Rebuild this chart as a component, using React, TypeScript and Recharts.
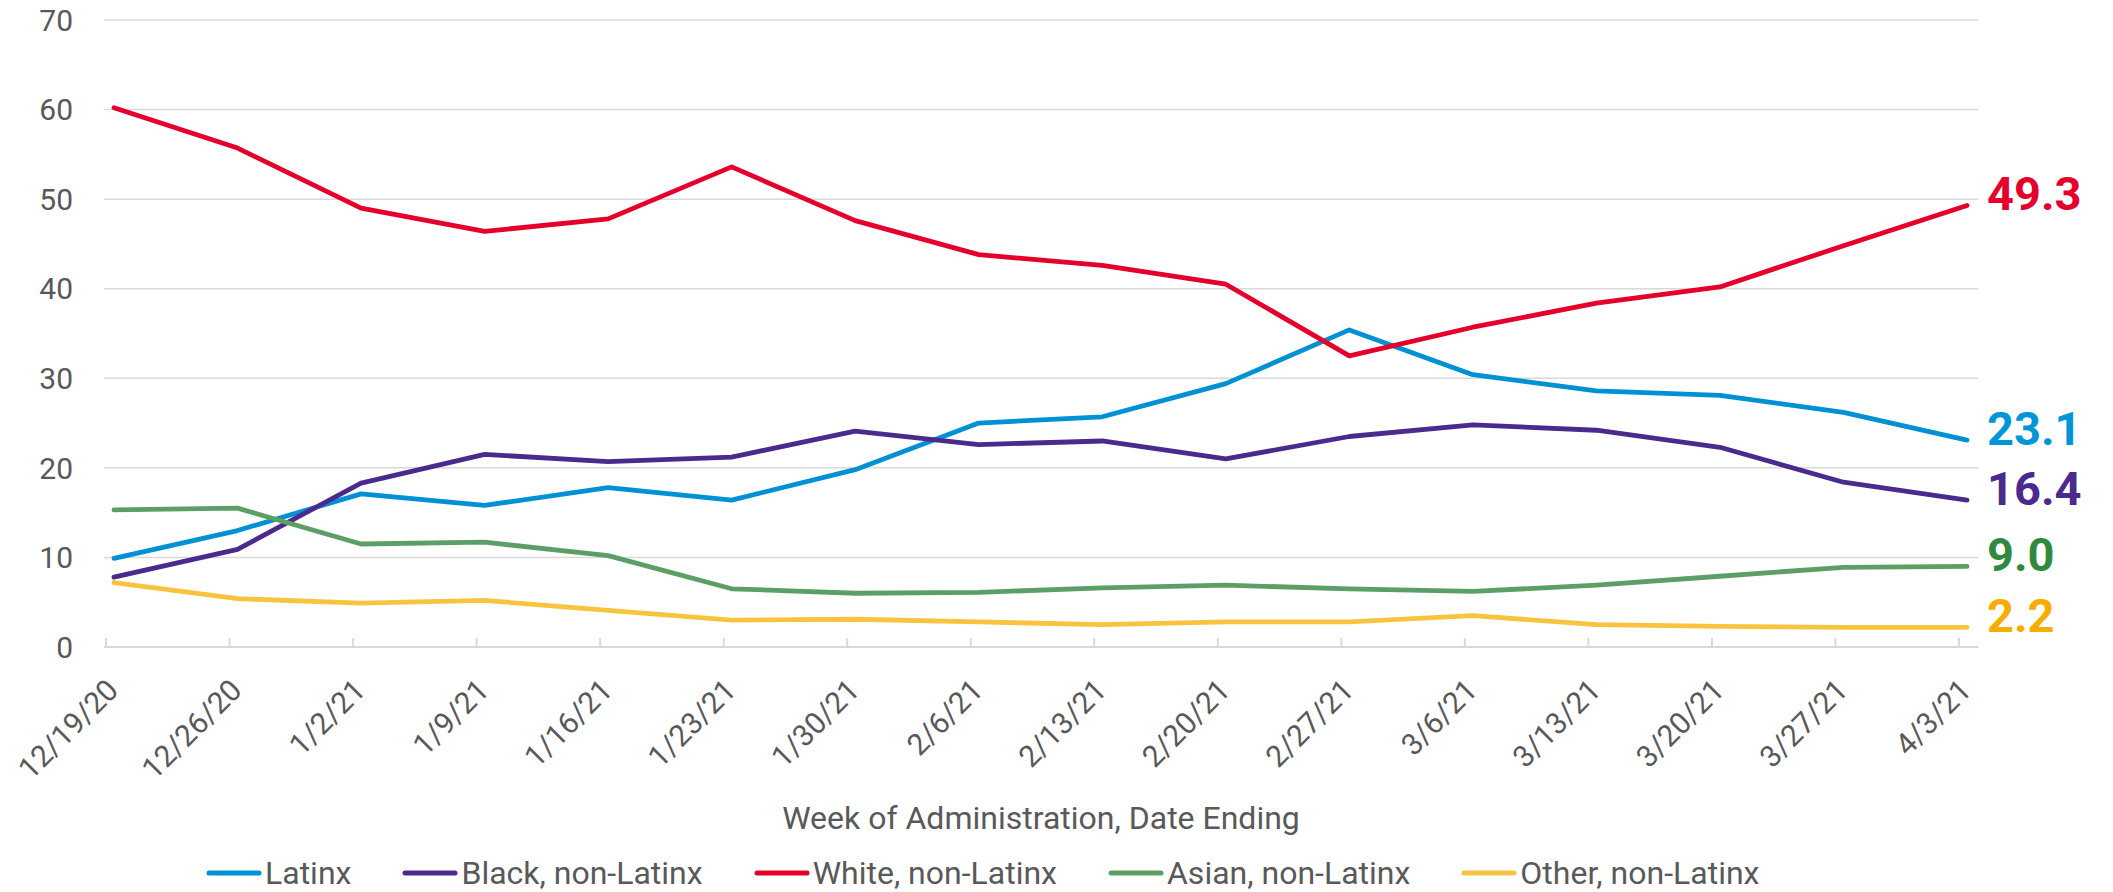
import React from 'react';
import {
  LineChart,
  Line,
  XAxis,
  YAxis,
  CartesianGrid,
  Legend,
  LabelList,
} from 'recharts';

const weeks = [
  '12/19/20', '12/26/20', '1/2/21', '1/9/21', '1/16/21', '1/23/21', '1/30/21', '2/6/21',
  '2/13/21', '2/20/21', '2/27/21', '3/6/21', '3/13/21', '3/20/21', '3/27/21', '4/3/21',
];

const latinx = [9.9, 13.0, 17.1, 15.8, 17.8, 16.4, 19.8, 25.0, 25.7, 29.4, 35.4, 30.4, 28.6, 28.1, 26.2, 23.1];
const black = [7.8, 10.9, 18.3, 21.5, 20.7, 21.2, 24.1, 22.6, 23.0, 21.0, 23.5, 24.8, 24.2, 22.3, 18.4, 16.4];
const white = [60.2, 55.7, 49.0, 46.4, 47.8, 53.6, 47.6, 43.8, 42.6, 40.5, 32.5, 35.7, 38.4, 40.2, 44.8, 49.3];
const asian = [15.3, 15.5, 11.5, 11.7, 10.2, 6.5, 6.0, 6.1, 6.6, 6.9, 6.5, 6.2, 6.9, 7.9, 8.9, 9.0];
const other = [7.2, 5.4, 4.9, 5.2, 4.1, 3.0, 3.1, 2.8, 2.5, 2.8, 2.8, 3.5, 2.5, 2.3, 2.2, 2.2];

const yTicks = [0, 10, 20, 30, 40, 50, 60, 70];

const series = [
  { key: 'latinx', name: 'Latinx', values: latinx, color: '#0090d4', labelColor: '#0095d6' },
  { key: 'black', name: 'Black, non-Latinx', values: black, color: '#4a2a8c', labelColor: '#4a2a8c' },
  { key: 'white', name: 'White, non-Latinx', values: white, color: '#e4002b', labelColor: '#e4002b' },
  { key: 'asian', name: 'Asian, non-Latinx', values: asian, color: '#5b9f67', labelColor: '#2f8a40' },
  { key: 'other', name: 'Other, non-Latinx', values: other, color: '#f8c440', labelColor: '#f5ae00' },
];

const data = weeks.map((week, i) => {
  const row: Record<string, string | number> = { week };
  series.forEach(s => { row[s.key] = s.values[i]; });
  return row;
});

const GRAY = '#595959';
const LINE_GRAY = '#d9d9d9';
const FONT = 'Roboto, "Noto Sans", sans-serif';

const WeekTick = (props: any) => {
  const { x, y, payload } = props;
  const tx = x + 6;
  const ty = y + 45;
  return (
    <g>
      <line x1={x - 8} x2={x - 8} y1={y - 9} y2={y} stroke={LINE_GRAY} strokeWidth={2} />
      <text
        x={tx}
        y={ty}
        textAnchor="end"
        fill={GRAY}
        fontSize={30}
        fontFamily={FONT}
        transform={`rotate(-45 ${tx} ${ty})`}
      >
        {payload.value}
      </text>
    </g>
  );
};

const AxisTitle = (props: any) => {
  const { viewBox } = props;
  return (
    <text
      x={viewBox.x + viewBox.width / 2}
      y={viewBox.y + 182}
      textAnchor="middle"
      fill={GRAY}
      fontSize={32}
      fontFamily={FONT}
    >
      Week of Administration, Date Ending
    </text>
  );
};

const endLabel = (color: string) => (props: any) => {
  const { x, y, value, index } = props;
  if (index !== weeks.length - 1) return null;
  return (
    <text x={x + 20} y={y + 5} fill={color} fontSize={47} fontWeight={700} fontFamily={FONT}>
      {Number(value).toFixed(1)}
    </text>
  );
};

const LegendContent = () => (
  <div style={{ display: 'flex', alignItems: 'center', height: 38, paddingLeft: 206, fontFamily: FONT }}>
    {series.map(s => (
      <div key={s.key} style={{ display: 'flex', alignItems: 'center', marginRight: 51 }}>
        <svg width={56} height={8}>
          <line x1={3} x2={53} y1={4} y2={4} stroke={s.color} strokeWidth={5} strokeLinecap="round" />
        </svg>
        <span style={{ marginLeft: 3, fontSize: 32, color: GRAY, lineHeight: '38px' }}>{s.name}</span>
      </div>
    ))}
  </div>
);

export default function App() {
  return (
    <div style={{ position: 'absolute', left: 0, top: 0, width: 2113, height: 892, background: '#fff', fontFamily: FONT }}>
      <LineChart width={2113} height={892} data={data} margin={{ top: 20, right: 135, bottom: 0, left: 0 }}>
        <CartesianGrid horizontal vertical={false} stroke={LINE_GRAY} strokeWidth={1.5} />
        <XAxis
          dataKey="week"
          interval={0}
          height={207}
          padding={{ left: 10, right: 11 }}
          axisLine={{ stroke: LINE_GRAY, strokeWidth: 2 }}
          tickLine={false}
          tickSize={0}
          tickMargin={0}
          tick={<WeekTick />}
          label={<AxisTitle />}
        />
        <YAxis
          domain={[0, 70]}
          ticks={yTicks}
          width={104}
          axisLine={false}
          tickLine={false}
          tickSize={0}
          tickMargin={31}
          tick={{ fill: GRAY, fontSize: 30, fontFamily: FONT }}
        />
        <Legend
          verticalAlign="bottom"
          content={<LegendContent />}
          wrapperStyle={{ left: 0, width: 2113, bottom: 0 }}
        />
        {series.map(s => (
          <Line
            key={s.key}
            type="linear"
            dataKey={s.key}
            name={s.name}
            stroke={s.color}
            strokeWidth={4.8}
            strokeLinejoin="round"
            strokeLinecap="round"
            dot={false}
            activeDot={false}
            isAnimationActive={false}
          >
            <LabelList dataKey={s.key} content={endLabel(s.labelColor)} />
          </Line>
        ))}
      </LineChart>
    </div>
  );
}
